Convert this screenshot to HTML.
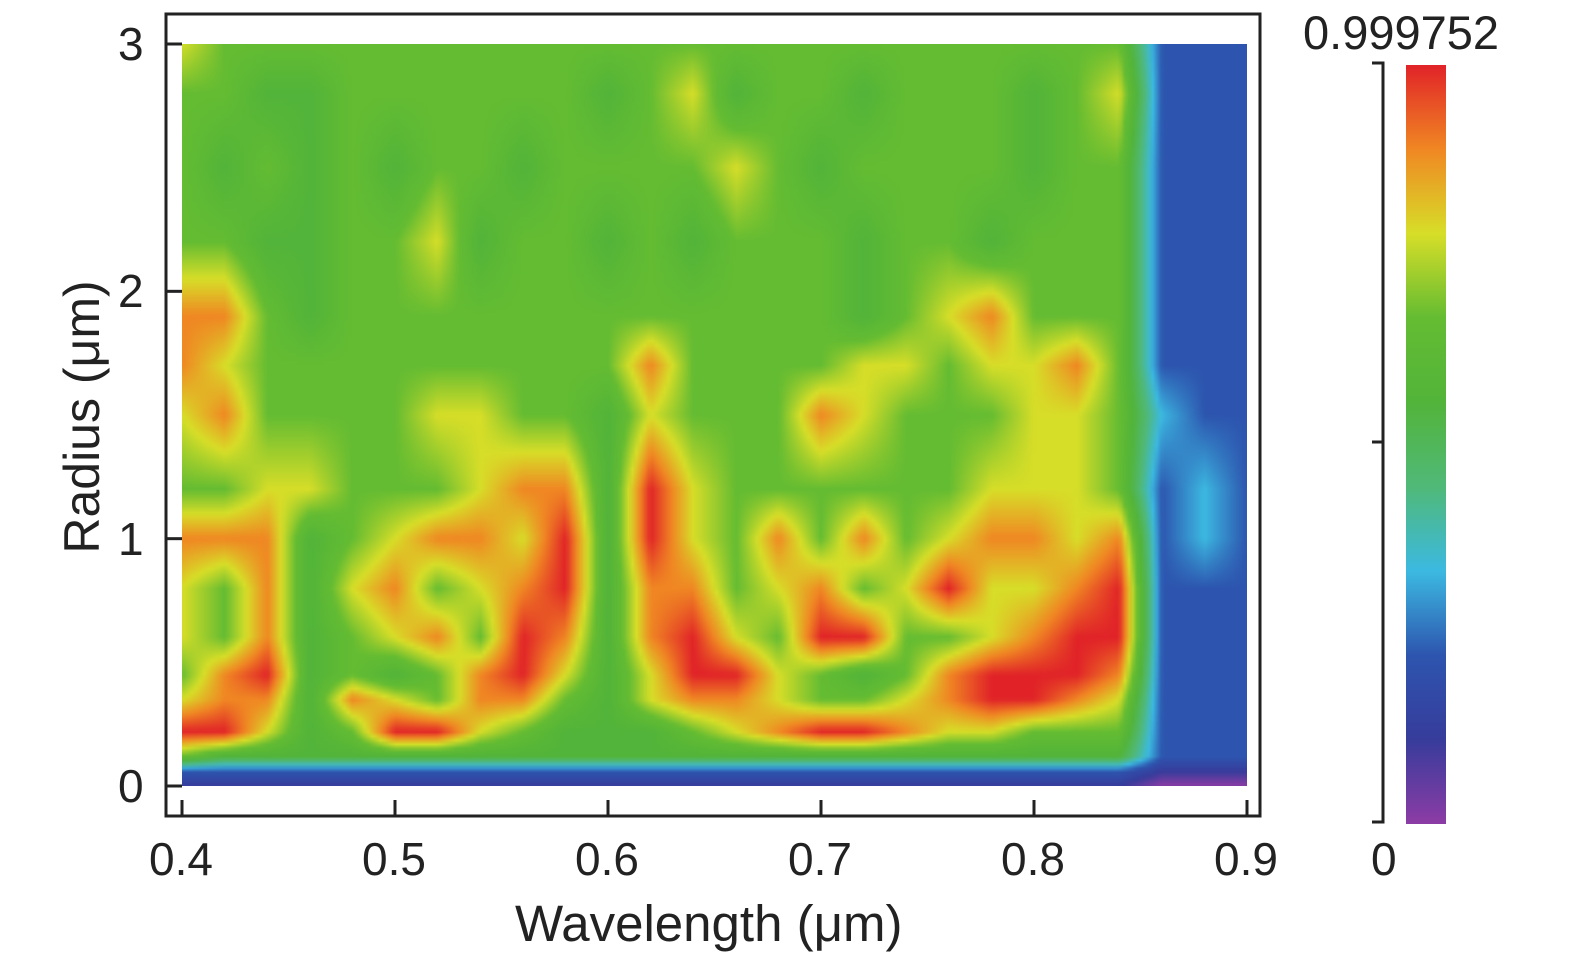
<!DOCTYPE html>
<html><head><meta charset="utf-8">
<style>
html,body{margin:0;padding:0;background:#fff;}
body{width:1575px;height:959px;position:relative;overflow:hidden;font-family:"Liberation Sans",sans-serif;color:#222;}
.t{position:absolute;font-size:40px;line-height:1;}
</style></head>
<body>
<canvas id="heat" width="266" height="186" style="position:absolute;left:182px;top:44px;width:1065px;height:742px;"></canvas>
<svg id="ov" width="1575" height="959" style="position:absolute;left:0;top:0">
  <rect x="166" y="14" width="1094" height="802" fill="none" stroke="#222" stroke-width="3"/>
  <g id="xt"></g>
  <g id="yt"></g>
  <defs><linearGradient id="cb" x1="0" y1="1" x2="0" y2="0"></linearGradient></defs>
  <rect x="1406" y="65" width="40" height="759" fill="url(#cb)"/>
  <path d="M1372 63 H1383 V822 H1372 M1383 442 H1372" fill="none" stroke="#222" stroke-width="3"/>
</svg>
<div class="t" style="left:515px;top:898px;font-size:51px;">Wavelength (μm)</div>
<div class="t" style="left:82px;top:417px;font-size:50px;transform:translate(-50%,-50%) rotate(-90deg);white-space:nowrap;">Radius (μm)</div>
<div class="t" style="left:1303px;top:9px;font-size:47px;">0.999752</div>
<div class="t" style="left:1371px;top:836px;font-size:46px;">0</div>
<div id="labels"></div>
<script>
const xTicks=[0.4,0.5,0.6,0.7,0.8,0.9];
const xTickLabels=["0.4","0.5","0.6","0.7","0.8","0.9"];
const yTicks=[0,1,2,3];
const yTickLabels=["0","1","2","3"];
const wavelengths=[0.40,0.42,0.44,0.46,0.48,0.50,0.52,0.54,0.56,0.58,0.60,0.62,0.64,0.66,0.68,0.70,0.72,0.74,0.76,0.78,0.80,0.82,0.84,0.86,0.88,0.90];
const radii=[0,0.06,0.12,0.22,0.35,0.45,0.6,0.8,1.0,1.2,1.5,1.7,1.9,2.2,2.5,2.8,3.0];
const r000=[1,1,1,1,1,1,1,1,1,1,1,1,1,1,1,1,1,1,1,1,1,1,1,0,0,0];
const r006=[2,2,2,2,2,2,2,2,2,2,2,2,2,2,2,2,2,2,2,2,2,2,2,1,1,1];
const r012=[6,5,5,5,5,5,5,5,5,5,5,5,5,5,5,5,5,5,5,5,5,5,5,2,2,2];
const r022=[9,9,7,5,6,9,9,7,6,5,5,5,6,7,8,9,9,8,7,7,6,6,6,2,2,2];
const r035=[7,8,8,5,8,7,6,8,8,6,5,7,8,8,7,6,6,7,8,9,9,8,7,2,2,2];
const r045=[6,8,9,5,6,5,6,8,9,7,5,7,9,9,7,6,5,6,8,9,9,9,8,2,2,2];
const r060=[7,6,8,5,6,7,8,6,9,8,5,8,9,7,6,9,9,6,6,7,8,9,9,2,2,2];
const r080=[7,6,8,5,7,8,6,7,8,9,5,8,8,6,7,8,6,7,9,7,7,8,9,2,2,2];
const r100=[8,8,8,5,6,7,8,8,7,9,5,9,7,6,8,6,8,6,7,8,8,7,8,2,3,2];
const r120=[6,6,7,7,6,6,6,7,8,8,5,9,7,6,6,6,6,6,6,7,7,7,6,2,3,2];
const r150=[7,8,6,6,6,6,7,7,6,6,5,7,6,6,6,8,7,6,6,6,7,7,6,3,2,2];
const r170=[8,7,6,6,6,6,6,6,6,6,6,8,6,6,6,6,7,7,6,7,7,8,6,2,2,2];
const r190=[8,8,6,5,6,6,6,6,6,6,6,6,6,6,6,6,5,6,7,8,6,6,6,2,2,2];
const r220=[6,6,5,5,6,6,7,5,6,6,5,6,5,6,6,6,5,6,6,5,6,6,6,2,2,2];
const r250=[6,5,6,5,6,5,6,6,5,6,6,6,6,7,6,5,6,6,6,6,5,6,6,2,2,2];
const r280=[6,6,5,5,6,6,6,6,6,6,5,6,7,5,6,6,5,6,6,6,5,6,7,2,2,2];
const r300=[7,6,6,6,6,6,6,6,6,6,6,6,6,6,6,6,6,6,6,6,6,6,6,2,2,2];
const grid=[r000,r006,r012,r022,r035,r045,r060,r080,r100,r120,r150,r170,r190,r220,r250,r280,r300];

const X0=182,X1=1247,Y0=786,Y1=44;
function xs(w){return X0+(w-0.4)/(0.5)*(X1-X0);}
function ys(r){return Y0-(r/3)*(Y0-Y1);}
const stops=[[0,[140,60,165]],[1,[55,60,155]],[2,[45,85,175]],[3,[60,185,225]],[4,[80,185,120]],[5,[82,180,58]],[6,[100,188,50]],[7,[215,222,40]],[8,[240,135,35]],[9,[225,35,40]]];
function cmap(v){v=Math.max(0,Math.min(9,v));let i=Math.min(8,Math.floor(v));const f=v-i;const a=stops[i][1],b=stops[i+1][1];return [0,1,2].map(k=>Math.round(a[k]+(b[k]-a[k])*f));}
const cv=document.getElementById('heat');const ctx=cv.getContext('2d');
const W=cv.width,H=cv.height;const img=ctx.createImageData(W,H);
function locate(arr,v){for(let i=0;i<arr.length-1;i++){if(v<=arr[i+1])return [i,(v-arr[i])/(arr[i+1]-arr[i])];}return [arr.length-2,1];}
for(let py=0;py<H;py++){const r=3*(1-(py+0.5)/H);const [ri,rf]=locate(radii,r);
 for(let px=0;px<W;px++){const w=0.4+0.5*(px+0.5)/W;const [ci,cf]=locate(wavelengths,w);
  const v=(grid[ri][ci]*(1-cf)+grid[ri][ci+1]*cf)*(1-rf)+(grid[ri+1][ci]*(1-cf)+grid[ri+1][ci+1]*cf)*rf;
  const c=cmap(v);const o=(py*W+px)*4;img.data[o]=c[0];img.data[o+1]=c[1];img.data[o+2]=c[2];img.data[o+3]=255;}}
ctx.putImageData(img,0,0);
const NS="http://www.w3.org/2000/svg";
const grad=document.getElementById('cb');
for(let i=0;i<=9;i++){const s=document.createElementNS(NS,'stop');s.setAttribute('offset',(i/9));const c=cmap(i);s.setAttribute('stop-color','rgb('+c.join(',')+')');grad.appendChild(s);}
const xt=document.getElementById('xt'),yt=document.getElementById('yt'),lab=document.getElementById('labels');
xTicks.forEach((t,i)=>{const l=document.createElementNS(NS,'line');


l.setAttribute('x1',xs(t));l.setAttribute('x2',xs(t));l.setAttribute('y1',800);l.setAttribute('y2',816);l.setAttribute('stroke','#222');l.setAttribute('stroke-width','3');xt.appendChild(l);
const d=document.createElement('div');d.className='t';


d.style.left=(xs(t)-33)+'px';d.style.top='836px';d.style.fontSize='46px';d.textContent=xTickLabels[i];lab.appendChild(d);});
yTicks.forEach((t,i)=>{const l=document.createElementNS(NS,'line');


l.setAttribute('x1',166);l.setAttribute('x2',182);l.setAttribute('y1',ys(t));l.setAttribute('y2',ys(t));l.setAttribute('stroke','#222');l.setAttribute('stroke-width','3');yt.appendChild(l);
const d=document.createElement('div');d.className='t';


d.style.left='118px';d.style.top=(ys(t)-23)+'px';d.style.fontSize='46px';d.textContent=yTickLabels[i];lab.appendChild(d);});
</script>
</body></html>
